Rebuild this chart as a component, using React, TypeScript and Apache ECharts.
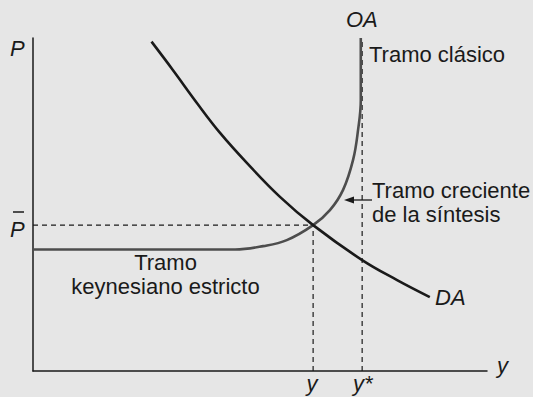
import React, { useEffect, useRef } from "react";
import * as echarts from "echarts";

// Curve data (x = output y, y = price level P), axis units 0..100
const daX = [26.1, 30.8, 36.1, 41.2, 47.1, 54.4, 61.7, 72.5, 80.2, 87.4];
const daY = [98.9, 90.4, 80.5, 71.5, 62.5, 52.3, 43.8, 33.3, 27.3, 22.2];

const oaX = [0, 44.5, 50.7, 55.9, 61.7, 65.4, 68.3, 70.5, 71.6, 72.2, 72.2];
const oaY = [36.5, 36.5, 37.5, 39.3, 43.8, 48.3, 54.4, 63.4, 72.4, 81.4, 100];

const yEq = 61.7; // equilibrium output
const pEq = 43.8; // equilibrium price (P barra)
const yFull = 72.5; // full-employment output y*

const labels = {
  p: "P",
  pBar: "P",
  oa: "OA",
  da: "DA",
  clasico: "Tramo clásico",
  creciente: "Tramo creciente\nde la síntesis",
  keynes: "Tramo\nkeynesiano estricto",
  yAxis: "y",
  yEqLabel: "y",
  yFullLabel: "y*",
};

export default function App() {
  const ref = useRef<HTMLDivElement>(null);
  useEffect(() => {
    if (!ref.current) return;
    const chart = echarts.init(ref.current, undefined, { renderer: "svg" });
    const font = '"Liberation Sans", Arial, Helvetica, sans-serif';
    const txt = "#1a1a1a";
    const t = (
      x: number,
      y: number,
      text: string,
      italic = false,
      align = "left",
      lineHeight?: number
    ) => ({
      type: "text",
      x,
      y,
      style: {
        text,
        fill: txt,
        fontSize: 22,
        fontFamily: font,
        fontStyle: italic ? "italic" : "normal",
        textAlign: align,
        textVerticalAlign: "middle",
        ...(lineHeight ? { lineHeight } : {}),
      },
      z: 10,
    });
    const dash = { color: "#1a1a1a", width: 1.2, type: [5, 4] as any };
    chart.setOption({
      animation: false,
      backgroundColor: "#e6e6e6",
      grid: { left: 33, top: 38, right: 46, bottom: 26 },
      xAxis: {
        type: "value",
        min: 0,
        max: 100,
        axisLine: { show: true, onZero: false, lineStyle: { color: "#1a1a1a", width: 1.5 } },
        axisTick: { show: false },
        axisLabel: { show: false },
        splitLine: { show: false },
      },
      yAxis: {
        type: "value",
        min: 0,
        max: 100,
        axisLine: { show: true, onZero: false, lineStyle: { color: "#1a1a1a", width: 1.5 } },
        axisTick: { show: false },
        axisLabel: { show: false },
        splitLine: { show: false },
      },
      series: [
        {
          type: "line",
          data: [[0, pEq], [yEq, pEq]],
          symbol: "none",
          lineStyle: dash,
          z: 1,
        },
        {
          type: "line",
          data: [[yEq, 0], [yEq, pEq]],
          symbol: "none",
          lineStyle: dash,
          z: 1,
        },
        {
          type: "line",
          data: [[yFull, 0], [yFull, 100]],
          symbol: "none",
          lineStyle: dash,
          z: 1,
        },
        {
          type: "line",
          data: oaX.map((x, i) => [x, oaY[i]]),
          symbol: "none",
          smooth: 0.4,
          lineStyle: { color: "#4d4d4d", width: 2.6 },
          z: 3,
        },
        {
          type: "line",
          data: daX.map((x, i) => [x, daY[i]]),
          symbol: "none",
          smooth: 0.4,
          lineStyle: { color: "#1a1a1a", width: 2.6 },
          z: 4,
        },
      ],
      graphic: [
        t(10, 48.4, labels.p, true),
        t(10, 229.4, labels.pBar, true),
        {
          type: "line",
          shape: { x1: 13, y1: 212, x2: 24, y2: 212 },
          style: { stroke: txt, lineWidth: 1.5 },
        },
        t(346, 19.4, labels.oa, true),
        t(369, 54.4, labels.clasico),
        t(372, 202.4, labels.creciente, false, "left", 24),
        t(165.5, 274, labels.keynes, false, "center", 24),
        t(435, 297.4, labels.da, true),
        t(312, 383.4, labels.yEqLabel, true, "center"),
        t(353, 383.4, labels.yFullLabel, true),
        t(497, 365.4, labels.yAxis, true),
        {
          type: "line",
          shape: { x1: 352, y1: 200, x2: 372, y2: 200 },
          style: { stroke: txt, lineWidth: 1.3 },
        },
        {
          type: "polygon",
          shape: { points: [[344, 200], [354, 196.5], [354, 203.5]] },
          style: { fill: txt },
        },
      ],
    });
    return () => chart.dispose();
  }, []);
  return (
    <div
      ref={ref}
      style={{ position: "fixed", left: 0, top: 0, width: 533, height: 397 }}
    />
  );
}
